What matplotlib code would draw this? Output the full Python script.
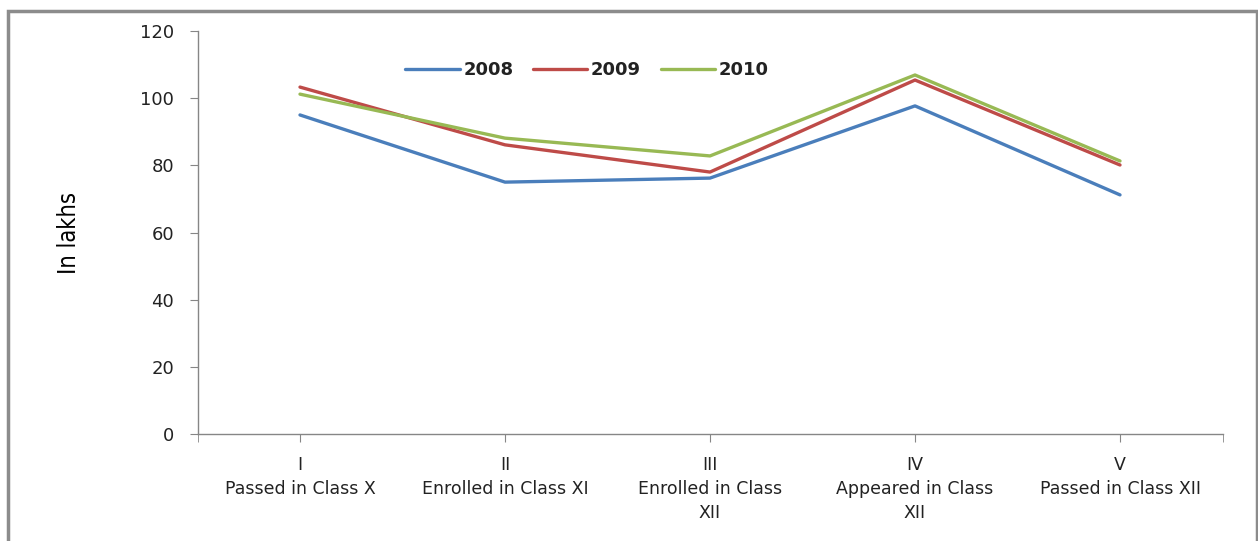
import matplotlib
matplotlib.use('Agg')
import matplotlib.pyplot as plt
from matplotlib.patches import Rectangle

stages = ['I\nPassed in Class X', 'II\nEnrolled in Class XI', 'III\nEnrolled in Class\nXII',
          'IV\nAppeared in Class\nXII', 'V\nPassed in Class XII']
years = ['2008', '2009', '2010']
vals_2008 = [95.0, 75.0, 76.2, 97.7, 71.2]
vals_2009 = [103.3, 86.1, 78.0, 105.4, 80.1]
vals_2010 = [101.2, 88.1, 82.8, 106.9, 81.3]
colors = ['#4A7EBB', '#BE4B48', '#98B954']

plt.rcParams['font.family'] = ['DejaVu Sans']
fig = plt.figure(figsize=(12.58, 5.41), dpi=100)
ax = fig.add_axes([197.5 / 1258, 107 / 541, 1025 / 1258, 403 / 541])

x = list(range(len(stages)))
for yr, v, c in zip(years, [vals_2008, vals_2009, vals_2010], colors):
    ax.plot(x, v, color=c, lw=2.4, label=yr, solid_capstyle='round')

ax.set_xlim(-0.5, 4.5)
ax.set_ylim(0, 120)
ax.set_yticks(range(0, 121, 20))
ax.set_xticks(x)
ax.set_xticklabels(stages, fontsize=12.5, color='#222222', linespacing=1.42)
ax.set_xticks([-0.5, 4.5], minor=True)
ax.tick_params(axis='y', labelsize=13, colors='#868686', labelcolor='#222222', length=6, pad=11)
ax.tick_params(axis='x', which='both', colors='#868686', labelcolor='#222222', length=6, pad=10)
for s in ['top', 'right']:
    ax.spines[s].set_visible(False)
for s in ['left', 'bottom']:
    ax.spines[s].set_color('#868686')
    ax.spines[s].set_linewidth(1.0)

ax.set_ylabel('In lakhs', family=['Liberation Sans Narrow', 'DejaVu Sans'], stretch='condensed',
              fontsize=17)
ax.yaxis.set_label_coords(-0.114, 0.5)

leg = ax.legend(loc='upper left', bbox_to_anchor=(0.187, 0.965), ncol=3, frameon=False,
                handlelength=3.0, handletextpad=0.2, columnspacing=1.1,
                prop={'size': 13, 'weight': 'bold'})
for t in leg.get_texts():
    t.set_color('#222222')

fig.patches.append(Rectangle((8 / 1258, -0.05), 1249 / 1258, 0.05 + (541 - 10.5) / 541,
                             transform=fig.transFigure, fill=False, edgecolor='#8c8c8c', lw=2.5))

fig.savefig('out.png', dpi=100)
